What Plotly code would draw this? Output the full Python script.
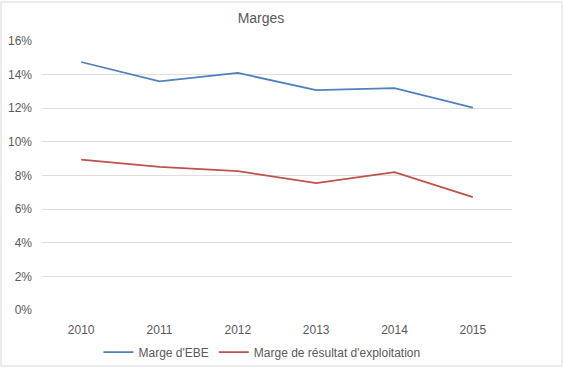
import plotly.graph_objects as go

years = ["2010", "2011", "2012", "2013", "2014", "2015"]
marge_ebe = [0.1475, 0.1360, 0.1410, 0.1308, 0.1320, 0.1204]
marge_resultat = [0.0895, 0.0852, 0.0826, 0.0755, 0.0820, 0.0671]

W, H = 564, 369
L, R, T, B = 42, 52, 41, 59

fig = go.Figure()
fig.add_trace(go.Scatter(x=years, y=marge_ebe, mode="lines", name="Marge d'EBE",
                         line=dict(color="#4f81bd", width=1.75)))
fig.add_trace(go.Scatter(x=years, y=marge_resultat, mode="lines",
                         name="Marge de résultat d'exploitation",
                         line=dict(color="#c0504d", width=1.75)))

pw, ph = W - L - R, H - T - B
fig.add_shape(type="rect", xref="paper", yref="paper",
              x0=(1 - L) / pw, x1=(W - 2 - L) / pw,
              y0=-(H - 3 - T - ph) / ph, y1=1 + (T - 2) / ph,
              line=dict(color="#d9d9d9", width=1), fillcolor="rgba(0,0,0,0)")

fig.update_layout(
    template="none",
    width=W, height=H,
    margin=dict(l=L, r=R, t=T, b=B, autoexpand=False),
    paper_bgcolor="white", plot_bgcolor="white",
    font=dict(family="Liberation Sans, Arial, sans-serif", size=12, color="#595959"),
    title=dict(text="Marges", x=261 / W, xref="container", xanchor="center",
               y=1 - 18 / H, yref="container", yanchor="middle",
               font=dict(size=14, color="#595959")),
    xaxis=dict(type="category", range=[-0.5, 5.5], showgrid=False, zeroline=False,
               showline=False, ticks="", automargin=False, ticklabelstandoff=11,
               tickfont=dict(size=12, color="#595959")),
    yaxis=dict(range=[0, 0.16], dtick=0.02, tickformat=".0%", showgrid=True,
               gridcolor="#dedede", gridwidth=1, zeroline=False, showline=False,
               ticks="", automargin=False, ticklabelstandoff=9,
               tickfont=dict(size=12, color="#595959")),
    legend=dict(orientation="h", x=(262 - L) / pw, xanchor="center",
                y=-(352 - (H - B)) / ph, yanchor="middle",
                font=dict(size=12, color="#595959"), bgcolor="rgba(0,0,0,0)",
                itemwidth=30, tracegroupgap=0),
    showlegend=True,
)

fig.write_html("out.html", config={"displayModeBar": False},
               post_script="document.body.style.margin='0';")
